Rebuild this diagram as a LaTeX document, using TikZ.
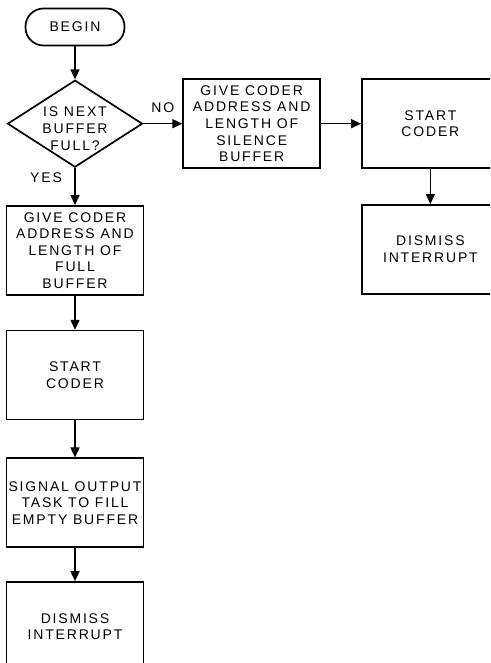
\documentclass[tikz,border=0pt]{standalone}
\usepackage{fontspec}
\setmainfont[LetterSpace=13]{Liberation Sans}
\usepackage{tikz}
\usetikzlibrary{arrows.meta,positioning,shapes.geometric}

\begin{document}
\begin{tikzpicture}[
  font=\fontsize{14}{16.6}\selectfont,
  x=1pt, y=1pt,
  term/.style={draw, line width=1.7pt, rounded corners=18pt, minimum width=99pt, minimum height=37pt, inner sep=0pt},
  decide/.style={draw, diamond, aspect=1.55, line width=1.7pt, minimum width=135pt, minimum height=87pt, inner sep=0pt},
  dtext/.style={align=center, inner sep=0pt},
  box/.style={draw, line width=1.7pt, align=center, minimum width=137pt, minimum height=89pt, inner sep=0pt},
  arr/.style={-{Triangle[length=10pt,width=9pt]}, line width=1.6pt}
]
\useasboundingbox (0,0) rectangle (490,-663);
\clip (0,0) rectangle (490,-663);
% main column
\node[term] (begin) at (75,-27) {BEGIN};
\node[decide, below=33pt of begin] (full) {};
\node[dtext] (fulltxt) at ([yshift=-5pt]full.center) {IS NEXT\\BUFFER\\FULL?};
\node[box, below=37pt of full] (givefull) {GIVE CODER\\ADDRESS AND\\LENGTH OF\\FULL\\BUFFER};
\node[box, below=34pt of givefull] (start1) {START\\CODER};
\node[box, below=37pt of start1] (signal) {SIGNAL OUTPUT\\TASK TO FILL\\EMPTY BUFFER};
\node[box, below=33pt of signal] (dismiss1) {DISMISS\\INTERRUPT};
% silence branch
\node[box, right=39pt of full] (givesil) {GIVE CODER\\ADDRESS AND\\LENGTH OF\\SILENCE\\BUFFER};
\node[box, right=40pt of givesil] (start2) {START\\CODER};
\node[box, below=35pt of start2] (dismiss2) {DISMISS\\INTERRUPT};
% arrows
\draw[arr] (begin) -- (full);
\draw[arr] (full) -- node[pos=0.27, left=9pt] {YES} (givefull);
\draw[arr] (full) -- node[above=7pt] {NO} (givesil);
\foreach \a/\b in {givefull/start1,start1/signal,signal/dismiss1,givesil/start2,start2/dismiss2} \draw[arr] (\a) -- (\b);
\end{tikzpicture}
\end{document}
